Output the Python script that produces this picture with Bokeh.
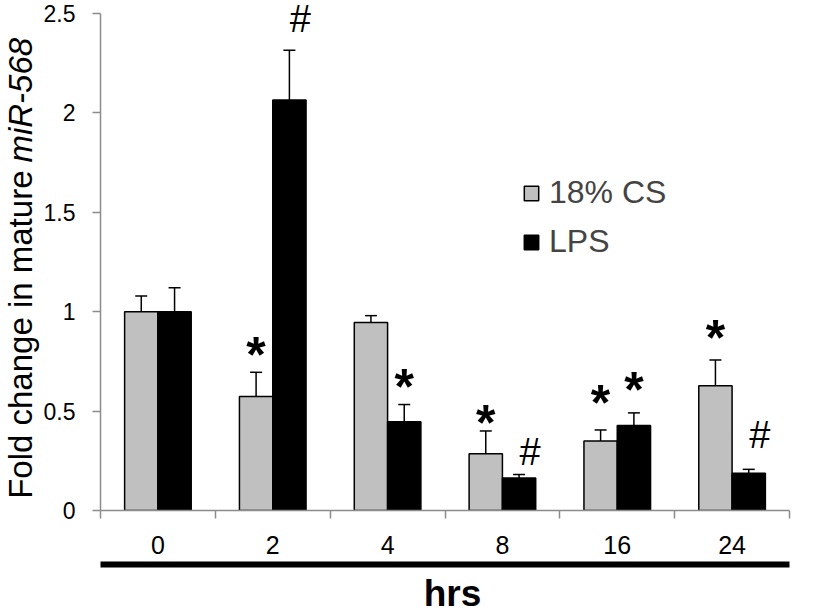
import math
from bokeh.plotting import figure
from bokeh.layouts import row, column
from bokeh.models import (ColumnDataSource, Range1d, FixedTicker, LinearAxis, Whisker,
                          TeeHead, Legend, LegendItem)
from bokeh.core.properties import value
from bokeh.embed import file_html
from bokeh.resources import INLINE

# ---- data ----
hours = ["0", "2", "4", "8", "16", "24"]
cs = [1.0, 0.573, 0.946, 0.285, 0.35, 0.628]
cs_err = [0.079, 0.122, 0.034, 0.115, 0.055, 0.129]
lps = [1.0, 2.065, 0.447, 0.164, 0.427, 0.187]
lps_err = [0.12, 0.25, 0.086, 0.017, 0.064, 0.02]
cs_mark = ["", "*", "", "*", "*", "*"]
cs_mark_y = [0, 0.814, 0, 0.469, 0.569, 0.896]
lps_mark = ["", "#", "*", "#", "*", "#"]
lps_mark_y = [0, 2.47, 0.653, 0.293, 0.637, 0.382]
y_ticks = [0, 0.5, 1, 1.5, 2, 2.5]
y_tick_labels = ["0", "0.5", "1", "1.5", "2", "2.5"]

FONT = "Liberation Sans"
GRAY = "#c0c0c0"
AXIS_GRAY = "#8c8c8c"
W = 0.29

n = len(hours)
centers = [i + 0.5 for i in range(n)]
cs_x = [c - W / 2 for c in centers]
lps_x = [c + W / 2 for c in centers]

yr = Range1d(0, 2.55)


def bare(fig):
    fig.outline_line_color = None
    fig.xgrid.visible = False
    fig.ygrid.visible = False
    fig.background_fill_color = "white"
    fig.border_fill_color = "white"


p = figure(frame_width=689, frame_height=507, x_range=Range1d(0, n), y_range=yr,
           output_backend="svg", toolbar_location=None, min_border_left=58, min_border_top=3,
           min_border_right=22, min_border_bottom=62, x_axis_location=None, y_axis_location=None)
bare(p)

# y axis
yax = LinearAxis(ticker=FixedTicker(ticks=y_ticks, minor_ticks=[]), bounds=(0, 2.5))
yax.major_label_overrides = {t: l for t, l in zip(y_ticks, y_tick_labels)}
yax.axis_line_color = AXIS_GRAY
yax.axis_line_width = 1.5
yax.major_tick_line_color = AXIS_GRAY
yax.major_tick_line_width = 1.5
yax.major_tick_out = 8
yax.major_tick_in = 0
yax.major_label_text_font = FONT
yax.major_label_text_font_size = "23px"
yax.major_label_text_color = "black"
yax.major_label_standoff = 17
p.add_layout(yax, "left")

# x axis (labels at centers, ticks at boundaries)
xax = LinearAxis(ticker=FixedTicker(ticks=centers, minor_ticks=list(range(n + 1))))
xax.major_label_overrides = {c: h for c, h in zip(centers, hours)}
xax.axis_line_color = AXIS_GRAY
xax.axis_line_width = 1.5
xax.major_tick_out = 0
xax.major_tick_in = 0
xax.minor_tick_out = 8
xax.minor_tick_in = 0
xax.minor_tick_line_color = AXIS_GRAY
xax.minor_tick_line_width = 1.5
xax.major_label_text_font = FONT
xax.major_label_text_font_size = "25px"
xax.major_label_text_color = "black"
xax.major_label_standoff = 17
xax.axis_label = " "
xax.axis_label_text_font_size = "4px"
xax.axis_label_standoff = 0
p.add_layout(xax, "below")

# thick black bar under the labels
lax = LinearAxis(ticker=FixedTicker(ticks=[]))
lax.axis_line_color = "black"
lax.axis_line_width = 6
lax.major_tick_out = 0
lax.minor_tick_out = 0
lax.major_label_text_font_size = "0px"
p.add_layout(lax, "below")

src = ColumnDataSource(dict(cs_x=cs_x, lps_x=lps_x, cs=cs, lps=lps,
                            cs_up=[v + e for v, e in zip(cs, cs_err)],
                            lps_up=[v + e for v, e in zip(lps, lps_err)]))

r_cs = p.vbar(x="cs_x", top="cs", bottom=0, width=W, source=src, fill_color=GRAY,
              line_color="black", line_width=1.5)
r_lps = p.vbar(x="lps_x", top="lps", bottom=0, width=W, source=src, fill_color="black",
               line_color="black", line_width=1.5)

for xcol, lo, up in (("cs_x", "cs", "cs_up"), ("lps_x", "lps", "lps_up")):
    wk = Whisker(base=xcol, lower=lo, upper=up, source=src, line_color="black", line_width=1.5,
                 upper_head=TeeHead(size=12, line_width=1.5, line_color="black"), lower_head=None,
                 level="glyph")
    p.add_layout(wk)

# significance marks
stars_x, stars_y, hash_x, hash_y = [], [], [], []
for xs, marks, ys in ((cs_x, cs_mark, cs_mark_y), (lps_x, lps_mark, lps_mark_y)):
    for x, m, y in zip(xs, marks, ys):
        if m == "*":
            stars_x.append(x); stars_y.append(y)
        elif m == "#":
            hash_x.append(x); hash_y.append(y)

p.text(x=stars_x, y=stars_y, text=["*"] * len(stars_x), text_font=value(FONT),
       text_font_size="50px", text_font_style="bold", text_align="center",
       text_baseline="middle", y_offset=6, text_color="black")
p.text(x=hash_x, y=hash_y, text=["#"] * len(hash_x), text_font=value(FONT),
       text_font_size="38px", text_align="center", text_baseline="middle",
       x_offset=11, text_color="black")

legend = Legend(items=[LegendItem(label="18% CS", renderers=[r_cs]),
                       LegendItem(label="LPS", renderers=[r_lps])],
                location=(422, 250), glyph_width=18, glyph_height=18,
                label_text_font=FONT, label_text_font_size="32px", label_standoff=9,
                spacing=12, padding=0, margin=0, border_line_color=None,
                background_fill_alpha=0)
p.add_layout(legend)

# y axis title (mixed roman / italic) in a narrow side panel sharing the y range
t = figure(frame_width=40, frame_height=507, x_range=Range1d(0, 40), y_range=yr,
           output_backend="svg", toolbar_location=None, min_border_left=0, min_border_right=0,
           min_border_top=3, min_border_bottom=0, x_axis_location=None, y_axis_location=None)
bare(t)
t.text(x=[20], y=[1.71], text=["Fold change in mature"], angle=math.pi / 2,
       text_align="right", text_baseline="alphabetic", text_font=value(FONT),
       text_font_size="33px", text_color="black")
t.text(x=[20], y=[1.75], text=["miR-568"], angle=math.pi / 2,
       text_align="left", text_baseline="alphabetic", text_font=value(FONT),
       text_font_size="33px", text_font_style="italic", text_color="black")

# x axis title in a strip below
b = figure(frame_width=809, frame_height=39, x_range=Range1d(0, 809), y_range=Range1d(0, 39),
           output_backend="svg", toolbar_location=None, min_border=0,
           x_axis_location=None, y_axis_location=None)
bare(b)
b.text(x=[452], y=[18], text=["hrs"], text_align="center", text_baseline="alphabetic",
       text_font=value(FONT), text_font_size="37px", text_font_style="bold",
       text_color="black")

layout = column(row(t, p, spacing=0), b, spacing=0)
open("out.html", "w").write(file_html(layout, INLINE))
